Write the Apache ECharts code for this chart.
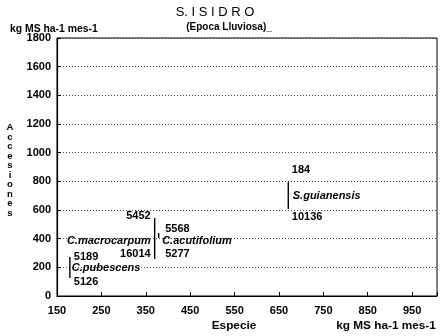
<!DOCTYPE html>
<html>
<head>
<meta charset="utf-8">
<script src="https://cdn.jsdelivr.net/npm/echarts@6/dist/echarts.min.js"></script>
<style>html,body{margin:0;padding:0;background:#fff}#c{width:445px;height:336px}</style>
</head>
<body>
<div id="c"></div>
<script>
// Data
const species = ['C.pubescens', 'C.macrocarpum', 'C.acutifolium', 'S.guianensis'];
const xValues = [179, 370, 379, 671];          // kg MS ha-1 mes-1 (x)
const lowValues = [126, 258, 405, 607];        // lower end of range
const highValues = [272, 544, 440, 795];       // upper end of range
const topLabels = ['5189', '5452', '5568', '184'];
const bottomLabels = ['5126', '16014', '5277', '10136'];
const xTickLabels = ['150', '250', '350', '450', '550', '650', '750', '850', '950'];
const yTickLabels = ['0', '200', '400', '600', '800', '1000', '1200', '1400', '1600', '1800'];

// Label placement (styling only, pixel offsets relative to the drawn segment)
const labelLayout = [
  { side: 'right', dx: 4, nameDx: 2, topDy: 0, midDy: 0, botDy: 4 },
  { side: 'left', dx: -4, nameDx: -4, topDy: -2, midDy: 2.5, botDy: -5 },
  { side: 'right', dx: 6.5, nameDx: 3.5, topDy: -4, midDy: 5.5, botDy: 16 },
  { side: 'right', dx: 3.5, nameDx: 4.5, topDy: -12, midDy: 0, botDy: 8 }
];

const FONT = '"Liberation Sans", Arial, sans-serif';
const data = species.map((s, i) => [xValues[i], lowValues[i], highValues[i], i]);

const chart = echarts.init(document.getElementById('c'), null, { renderer: 'canvas' });
chart.setOption({
  animation: false,
  backgroundColor: '#fff',
  textStyle: { fontFamily: FONT },
  grid: { left: 57, right: 8, top: 38, bottom: 40, show: true, borderColor: '#000', borderWidth: 1, backgroundColor: 'transparent' },
  xAxis: {
    type: 'value', min: 150, max: 1006, interval: 100,
    axisLine: { show: true, lineStyle: { color: '#000', width: 1.2 } },
    axisTick: { show: true, inside: true, length: 4, lineStyle: { color: '#000' } },
    splitLine: { show: false },
    axisLabel: {
      margin: 9, color: '#000', fontSize: 11, fontWeight: 'bold', fontFamily: FONT,
      formatter: v => xTickLabels.indexOf(String(v)) >= 0 ? String(v) : ''
    }
  },
  yAxis: {
    type: 'value', min: 0, max: 1800, interval: 200,
    axisLine: { show: true, lineStyle: { color: '#000', width: 1.2 } },
    axisTick: { show: true, inside: true, length: 4, lineStyle: { color: '#000' } },
    splitLine: { show: true, lineStyle: { color: '#444', type: [1, 2], width: 1 } },
    axisLabel: {
      margin: 6, color: '#000', fontSize: 11, fontWeight: 'bold', fontFamily: FONT,
      formatter: v => yTickLabels.indexOf(String(v)) >= 0 ? String(v) : ''
    }
  },
  series: [{
    type: 'custom',
    data: data,
    encode: { x: 0, y: [1, 2] },
    renderItem: function (params, api) {
      const i = api.value(3);
      const lay = labelLayout[i];
      const pLow = api.coord([api.value(0), api.value(1)]);
      const pHigh = api.coord([api.value(0), api.value(2)]);
      const x = pLow[0];
      const yTop = pHigh[1], yBot = pLow[1];
      const yMid = (yTop + yBot) / 2;
      const align = lay.side === 'right' ? 'left' : 'right';
      const numFont = 'bold 11px ' + FONT;
      const nameFont = 'italic bold 11px ' + FONT;
      return {
        type: 'group',
        children: [
          { type: 'line', shape: { x1: x, y1: yTop, x2: x, y2: yBot }, style: { stroke: '#000', lineWidth: 1.4 } },
          { type: 'text', style: { text: topLabels[i], x: x + lay.dx, y: yTop + lay.topDy, align: align, verticalAlign: 'middle', fill: '#000', font: numFont } },
          { type: 'text', style: { text: species[i], x: x + lay.nameDx, y: yMid + lay.midDy, align: align, verticalAlign: 'middle', fill: '#000', font: nameFont } },
          { type: 'text', style: { text: bottomLabels[i], x: x + lay.dx, y: yBot + lay.botDy, align: align, verticalAlign: 'middle', fill: '#000', font: numFont } }
        ]
      };
    }
  }],
  graphic: [
    { type: 'text', x: 215, y: 12, style: { text: 'S. I S I D R O', align: 'center', verticalAlign: 'middle', fill: '#000', font: '13px ' + FONT } },
    { type: 'text', x: 229, y: 27, style: { text: '(Epoca Lluviosa)_', align: 'center', verticalAlign: 'middle', fill: '#000', font: 'bold 10px ' + FONT } },
    { type: 'text', x: 10, y: 29, style: { text: 'kg MS ha-1 mes-1', align: 'left', verticalAlign: 'middle', fill: '#000', font: 'bold 10.4px ' + FONT } },
    { type: 'text', x: 10, y: 123, style: { text: 'Accesiones'.split('').join('\n'), align: 'center', verticalAlign: 'top', lineHeight: 9.5, fill: '#000', font: 'bold 9.5px ' + FONT } },
    { type: 'text', x: 234, y: 326, style: { text: 'Especie', align: 'center', verticalAlign: 'middle', fill: '#000', font: 'bold 11.8px ' + FONT } },
    { type: 'text', x: 386, y: 326, style: { text: 'kg MS ha-1 mes-1', align: 'center', verticalAlign: 'middle', fill: '#000', font: 'bold 11.8px ' + FONT } }
  ]
});
</script>
</body>
</html>
